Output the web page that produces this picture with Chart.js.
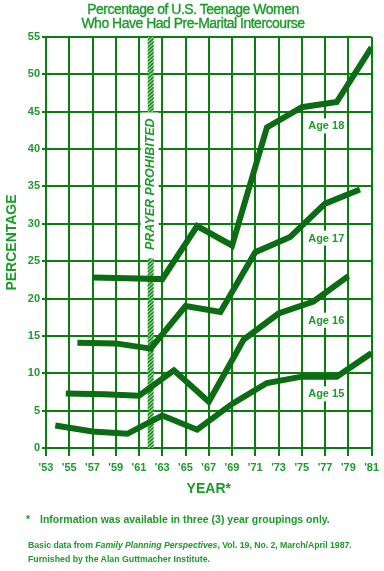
<!DOCTYPE html>
<html>
<head>
<meta charset="utf-8">
<script src="https://cdn.jsdelivr.net/npm/chart.js@4"></script>
<style>
  html, body { margin: 0; padding: 0; background: #fff; }
  #wrap { position: relative; width: 384px; height: 571px; overflow: hidden; font-family: "Liberation Sans", Arial, Helvetica, sans-serif; color: #1c9a2a; }
  canvas { position: absolute; left: 0; top: 0; }
  .t { position: absolute; white-space: nowrap; }
  #title { left: 0; width: 386px; top: 2px; text-align: center; font-size: 14px; line-height: 14px; letter-spacing: -0.5px; -webkit-text-stroke: 0.35px #1c9a2a; }
  #star { left: 26px; top: 513px; font-size: 10.5px; font-weight: bold; }
  #note { left: 40px; top: 513px; font-size: 10.5px; font-weight: bold; }
  #src1 { left: 28px; top: 540px; font-size: 8.75px; font-weight: bold; letter-spacing: -0.05px; }
  #src2 { left: 28px; top: 554px; font-size: 8.75px; font-weight: bold; }
</style>
</head>
<body>
<div id="wrap">
  <canvas id="c" width="384" height="571"></canvas>
  <div class="t" id="title">Percentage of U.S. Teenage Women<br>Who Have Had Pre-Marital Intercourse</div>
  <div class="t" id="star">*</div>
  <div class="t" id="note">Information was available in three (3) year groupings only.</div>
  <div class="t" id="src1">Basic data from <i>Family Planning Perspectives</i>, Vol. 19, No. 2, March/April 1987.</div>
  <div class="t" id="src2">Furnished by the Alan Guttmacher Institute.</div>
</div>
<script>
// ---- data ----
const years15 = [1953.8, 1957, 1960, 1963, 1966, 1969, 1972, 1975, 1978, 1981];
const age15   = [3.0, 2.2, 1.9, 4.35, 2.45, 5.9, 8.7, 9.55, 9.55, 12.7];
const years16 = [1954.7, 1958, 1961, 1964, 1967, 1970, 1973, 1976, 1979];
const age16   = [7.3, 7.2, 7.0, 10.4, 6.2, 14.5, 18.0, 19.6, 23.0];
const years17 = [1955.7, 1959, 1962, 1965, 1968, 1971, 1974, 1977, 1980];
const age17   = [14.1, 14.0, 13.3, 19.0, 18.2, 26.2, 28.25, 32.7, 34.6];
const years18 = [1957, 1960, 1963, 1966, 1969, 1972, 1975, 1978, 1981];
const age18   = [22.8, 22.7, 22.6, 29.7, 27.1, 42.9, 45.6, 46.3, 53.6];
const seriesNames = ['Age 15', 'Age 16', 'Age 17', 'Age 18'];
const xTickMin = 1953, xTickMax = 1981, xTickStep = 2;
const yTickMin = 0, yTickMax = 55, yTickStep = 5;
const prayerYear = 1962;
const prayerText = 'PRAYER PROHIBITED';

// ---- annotation placement (data coords) ----
const labelPos = [[1977.1, 7.25], [1977.1, 17.1], [1977.1, 28.1], [1977.1, 43.1]];
const prayerTextCenter = 35.3, prayerBoxTop = 44.9, prayerBoxBottom = 25.4;

const TEXT = '#1c9a2a', GRID = '#0a7c10', LINE = '#0b6c14';
const FONT = '"Liberation Sans", Arial, Helvetica, sans-serif';

function pts(xs, ys) { return xs.map((x, i) => ({ x: x, y: ys[i] })); }
const allSeries = [[years15, age15], [years16, age16], [years17, age17], [years18, age18]];
const datasets = allSeries.map((s, i) => ({
  label: seriesNames[i],
  data: pts(s[0], s[1]),
  borderColor: LINE,
  borderWidth: 6,
  borderJoinStyle: 'miter',
  borderCapStyle: 'butt',
  pointRadius: 0,
  tension: 0,
  fill: false
}));

const annot = {
  id: 'annot',
  beforeDatasetsDraw(chart) {
    const ctx = chart.ctx, xs = chart.scales.x, ys = chart.scales.y, ca = chart.chartArea;
    const cx = xs.getPixelForValue(prayerYear);
    const w = 6;
    const bTop = ys.getPixelForValue(prayerBoxTop), bBot = ys.getPixelForValue(prayerBoxBottom);
    ctx.save();
    const segs = [[ca.top, bTop], [bBot, ca.bottom]];
    segs.forEach(([a, b]) => {
      ctx.save();
      ctx.beginPath(); ctx.rect(cx - w / 2, a, w, b - a); ctx.clip();
      ctx.fillStyle = '#a6dea2'; ctx.fillRect(cx - w / 2, a, w, b - a);
      ctx.strokeStyle = '#1a8a22'; ctx.lineWidth = 1.6;
      for (let y = a - 10; y < b + 10; y += 3.5) {
        ctx.beginPath(); ctx.moveTo(cx - w / 2 - 1, y + w + 1); ctx.lineTo(cx + w / 2 + 1, y); ctx.stroke();
      }
      ctx.restore();
    });
    ctx.fillStyle = '#fff';
    ctx.fillRect(cx - 10, bTop, 18, bBot - bTop);
    ctx.translate(cx - 0.5, ys.getPixelForValue(prayerTextCenter));
    ctx.rotate(-Math.PI / 2);
    ctx.fillStyle = TEXT;
    ctx.font = 'italic bold 12.5px ' + FONT;
    ctx.textAlign = 'center'; ctx.textBaseline = 'middle';
    ctx.fillText(prayerText, 0, 0);
    ctx.restore();
  },
  afterDatasetsDraw(chart) {
    const ctx = chart.ctx, xs = chart.scales.x, ys = chart.scales.y;
    ctx.save();
    ctx.font = 'bold 11px ' + FONT;
    ctx.textAlign = 'center'; ctx.textBaseline = 'middle';
    seriesNames.forEach((n, i) => {
      const px = xs.getPixelForValue(labelPos[i][0]), py = ys.getPixelForValue(labelPos[i][1]);
      const tw = ctx.measureText(n).width;
      ctx.fillStyle = '#fff';
      ctx.fillRect(px - tw / 2 - 2, py - 7.5, tw + 4, 15);
      ctx.fillStyle = TEXT;
      ctx.fillText(n, px, py + 0.5);
    });
    ctx.restore();
  }
};

new Chart(document.getElementById('c'), {
  type: 'line',
  data: { datasets: datasets },
  plugins: [annot],
  options: {
    responsive: false,
    animation: false,
    events: [],
    layout: { padding: { top: 37, right: 9, bottom: 73, left: 0 } },
    plugins: { legend: { display: false }, tooltip: { enabled: false }, title: { display: false } },
    scales: {
      x: {
        type: 'linear', min: xTickMin, max: xTickMax,
        ticks: { stepSize: xTickStep, color: TEXT, padding: 5, maxRotation: 0, autoSkip: false,
                 font: { family: FONT, size: 11, weight: 'bold' },
                 callback: v => "'" + String(v).slice(2) },
        grid: { color: GRID, lineWidth: 2, tickLength: 8, tickColor: GRID },
        border: { color: GRID, width: 2 },
        title: { display: true, text: 'YEAR*', color: TEXT, padding: { top: 0, bottom: 0 },
                 font: { family: FONT, size: 14, weight: 'bold' } },
        afterFit: s => { s.height = 50; }
      },
      y: {
        min: yTickMin, max: yTickMax,
        ticks: { stepSize: yTickStep, color: TEXT, padding: 2,
                 font: { family: FONT, size: 11, weight: 'bold' } },
        grid: { color: GRID, lineWidth: 2, tickLength: 4, tickColor: GRID },
        border: { color: GRID, width: 2 },
        title: { display: true, text: 'PERCENTAGE', color: TEXT, padding: { top: 4, bottom: 0 },
                 font: { family: FONT, size: 14, weight: 'bold' } },
        afterFit: s => { s.width = 46; }
      }
    }
  }
});
</script>
</body>
</html>
